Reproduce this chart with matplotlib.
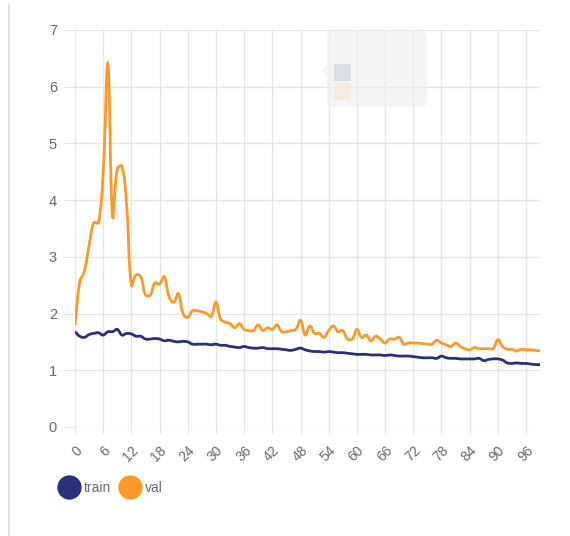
import matplotlib.pyplot as plt
import numpy as np
from matplotlib.path import Path
from matplotlib.patches import PathPatch, FancyBboxPatch, Rectangle, Polygon
from matplotlib.lines import Line2D

plt.rcParams["font.family"] = ["Liberation Sans", "DejaVu Sans"]

epochs = list(range(100))

val_loss = [
    1.80, 2.55, 2.75, 3.20, 3.60, 3.60, 4.50, 6.40, 3.70, 4.55,
    4.60, 3.90, 2.50, 2.68, 2.65, 2.33, 2.32, 2.54, 2.52, 2.65,
    2.30, 2.20, 2.35, 2.00, 1.93, 2.05, 2.05, 2.03, 2.00, 1.95,
    2.20, 1.90, 1.85, 1.82, 1.75, 1.82, 1.72, 1.70, 1.70, 1.80,
    1.70, 1.75, 1.72, 1.80, 1.68, 1.68, 1.70, 1.72, 1.88, 1.62,
    1.78, 1.65, 1.65, 1.58, 1.70, 1.78, 1.68, 1.70, 1.55, 1.55,
    1.72, 1.58, 1.62, 1.52, 1.60, 1.55, 1.48, 1.55, 1.55, 1.58,
    1.46, 1.48, 1.48, 1.48, 1.47, 1.46, 1.46, 1.53, 1.48, 1.45,
    1.42, 1.48, 1.42, 1.38, 1.36, 1.40, 1.38, 1.38, 1.38, 1.38,
    1.54, 1.42, 1.37, 1.37, 1.34, 1.37, 1.36, 1.36, 1.35, 1.34,
]

train_loss = [
    1.68, 1.60, 1.58, 1.63, 1.65, 1.66, 1.62, 1.68, 1.68, 1.72,
    1.62, 1.65, 1.64, 1.60, 1.60, 1.55, 1.55, 1.56, 1.55, 1.52,
    1.53, 1.51, 1.50, 1.51, 1.50, 1.46, 1.46, 1.46, 1.46, 1.45,
    1.46, 1.44, 1.44, 1.42, 1.41, 1.40, 1.42, 1.40, 1.39, 1.39,
    1.40, 1.38, 1.38, 1.38, 1.37, 1.36, 1.35, 1.37, 1.39, 1.36,
    1.34, 1.33, 1.33, 1.32, 1.33, 1.32, 1.31, 1.31, 1.30, 1.29,
    1.28, 1.28, 1.28, 1.27, 1.27, 1.27, 1.26, 1.27, 1.26, 1.25,
    1.25, 1.25, 1.24, 1.23, 1.22, 1.22, 1.22, 1.21, 1.25, 1.22,
    1.21, 1.21, 1.20, 1.20, 1.20, 1.20, 1.21, 1.17, 1.19, 1.20,
    1.20, 1.18, 1.13, 1.12, 1.13, 1.12, 1.12, 1.11, 1.10, 1.10,
]

x_ticks = list(range(0, 97, 6))
y_ticks = list(range(0, 8))

TRAIN_COLOR = "#27317a"
VAL_COLOR = "#fb9a2a"
GRID_COLOR = "#e6e6e6"
TEXT_COLOR = "#6a6a6a"


def smooth_path(ax, xs, ys, tension=0.4):
    """Bezier path through the points, control points like chart.js splineCurve."""
    pts = ax.transData.transform(np.column_stack([xs, ys]))
    n = len(pts)
    verts = [pts[0]]
    codes = [Path.MOVETO]
    cp_prev = []
    cp_next = []
    for i in range(n):
        p0 = pts[max(i - 1, 0)]
        p1 = pts[i]
        p2 = pts[min(i + 1, n - 1)]
        d01 = np.hypot(*(p1 - p0))
        d12 = np.hypot(*(p2 - p1))
        tot = d01 + d12
        fa = tension * d01 / tot if tot else 0
        fb = tension * d12 / tot if tot else 0
        cp_prev.append(p1 - fa * (p2 - p0))
        cp_next.append(p1 + fb * (p2 - p0))
    for i in range(n - 1):
        verts += [cp_next[i], cp_prev[i + 1], pts[i + 1]]
        codes += [Path.CURVE4] * 3
    return Path(ax.transData.inverted().transform(np.array(verts)), codes)


fig = plt.figure(figsize=(5.7, 5.36), dpi=100)
ax = fig.add_axes([0.1316, 0.2034, 0.816, 0.7407])
ax.set_xlim(0, 99)
ax.set_ylim(0, 7)

for s in ax.spines.values():
    s.set_visible(False)

ax.set_xticks(x_ticks)
ax.set_yticks(y_ticks)
ax.set_xticklabels([str(t) for t in x_ticks], rotation=45, ha="right",
                   rotation_mode="anchor", color=TEXT_COLOR, fontsize=10)
ax.set_yticklabels([str(t) for t in y_ticks], color=TEXT_COLOR, fontsize=10.5)
ax.tick_params(axis="x", length=5, color=GRID_COLOR, pad=7)
ax.tick_params(axis="y", length=9, color=GRID_COLOR, pad=4)
ax.grid(True, color=GRID_COLOR, linewidth=1)
ax.set_axisbelow(True)

ax.add_patch(PathPatch(smooth_path(ax, epochs, val_loss), fill=False,
                       edgecolor=VAL_COLOR, linewidth=2.0, zorder=3))
ax.add_patch(PathPatch(smooth_path(ax, epochs, train_loss), fill=False,
                       edgecolor=TRAIN_COLOR, linewidth=2.0, zorder=4))

# faded tooltip left on the canvas
tip = FancyBboxPatch((327 / 570, 1 - 107 / 536), 100 / 570, 76 / 536,
                     boxstyle="round,pad=0,rounding_size=0.01",
                     transform=fig.transFigure, facecolor="#eeeeee",
                     edgecolor="none", alpha=0.55, zorder=5)
fig.add_artist(tip)
fig.add_artist(Polygon([[327 / 570, 1 - 65 / 536], [321 / 570, 1 - 71 / 536],
                        [327 / 570, 1 - 77 / 536]], closed=True,
                       transform=fig.transFigure, facecolor="#eeeeee",
                       edgecolor="none", alpha=0.55, zorder=5))
fig.add_artist(Rectangle((334 / 570, 1 - 81 / 536), 17 / 570, 17 / 536,
                         transform=fig.transFigure, facecolor="#dcdce8",
                         edgecolor="none", zorder=6))
fig.add_artist(Rectangle((334 / 570, 1 - 100 / 536), 17 / 570, 17 / 536,
                         transform=fig.transFigure, facecolor="#f6ebe0",
                         edgecolor="none", zorder=6))

# panel border on the left
fig.add_artist(Line2D([9 / 570, 9 / 570], [0, 1 - 5 / 536],
                      transform=fig.transFigure, color="#dddddd", linewidth=1.2))

handles = [
    Line2D([], [], marker="o", linestyle="none", markersize=16.5,
           markerfacecolor=TRAIN_COLOR, markeredgecolor=TRAIN_COLOR, label="train"),
    Line2D([], [], marker="o", linestyle="none", markersize=16.5,
           markerfacecolor=VAL_COLOR, markeredgecolor=VAL_COLOR, label="val"),
]
fig.legend(handles=handles, loc="center left", bbox_to_anchor=(58 / 570, 1 - 488 / 536),
           ncol=2, frameon=False, handletextpad=0.25, columnspacing=0.6,
           handlelength=1.6, labelcolor=TEXT_COLOR, fontsize=10,
           borderaxespad=0, borderpad=0)

fig.savefig("out.png", dpi=100)
